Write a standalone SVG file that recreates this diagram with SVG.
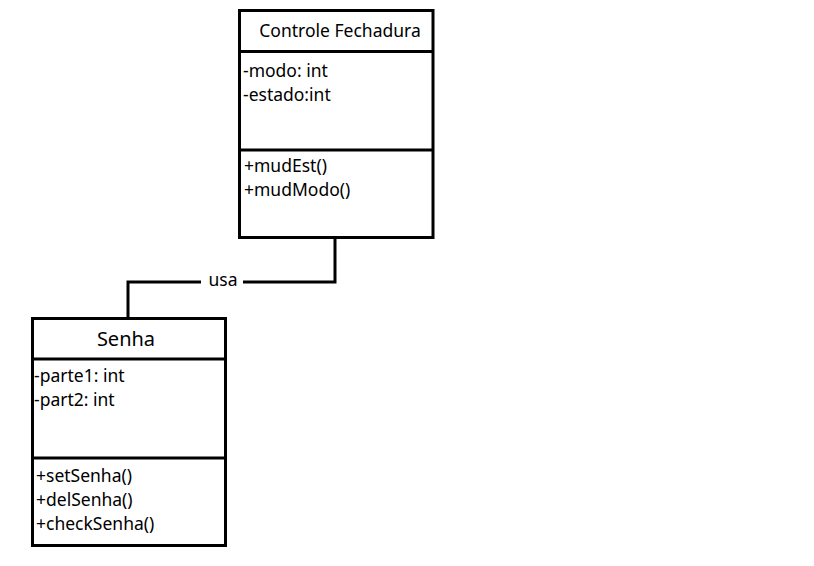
<svg xmlns="http://www.w3.org/2000/svg" width="814" height="566" viewBox="0 0 814 566">
<style>
.box{fill:#fff;stroke:#000;stroke-width:3}
.ln{stroke:#000;stroke-width:3;fill:none}
text{font-family:"Noto Sans","Open Sans","DejaVu Sans",sans-serif;fill:#000}
.t{font-size:17.5px}
.h{font-size:17.5px;text-anchor:middle}
.h2{font-size:20px;text-anchor:middle}
</style>
<rect width="814" height="566" fill="#fff"/>
<g id="connectors">
<polyline class="ln" points="335,239 335,282 243,282"/>
<polyline class="ln" points="201,282 128,282 128,318"/>
<text class="t" x="223" y="286" text-anchor="middle">usa</text>
</g>
<g id="controle-fechadura">
<rect class="box" x="239.5" y="10.5" width="193.5" height="227"/>
<line class="ln" x1="239.5" y1="51.5" x2="433" y2="51.5"/>
<line class="ln" x1="239.5" y1="150" x2="433" y2="150"/>
<text class="h" x="340" y="37">Controle Fechadura</text>
<text class="t" x="243" y="77">-modo: int</text>
<text class="t" x="243" y="101">-estado:int</text>
<text class="t" x="244" y="172">+mudEst()</text>
<text class="t" x="244" y="196">+mudModo()</text>
</g>
<g id="senha">
<rect class="box" x="32.5" y="318.5" width="193" height="227"/>
<line class="ln" x1="32.5" y1="359" x2="225.5" y2="359"/>
<line class="ln" x1="32.5" y1="458" x2="225.5" y2="458"/>
<text class="h2" x="126" y="346">Senha</text>
<text class="t" x="34" y="382">-parte1: int</text>
<text class="t" x="34" y="406">-part2: int</text>
<text class="t" x="36" y="482">+setSenha()</text>
<text class="t" x="36" y="506">+delSenha()</text>
<text class="t" x="36" y="530">+checkSenha()</text>
</g>
</svg>
